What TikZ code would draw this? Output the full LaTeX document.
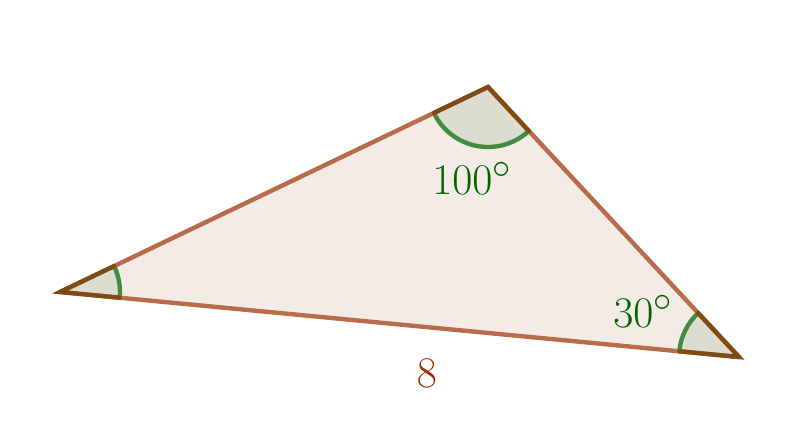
\documentclass[tikz,border=0pt]{standalone}
\usetikzlibrary{angles,calc}
\definecolor{sidebrown}{RGB}{183,108,76}
\definecolor{rimbrown}{RGB}{125,75,20}
\definecolor{trifill}{RGB}{244,235,230}
\definecolor{anglefill}{RGB}{220,221,207}
\definecolor{arcgreen}{RGB}{66,140,66}
\definecolor{labelgreen}{RGB}{0,100,0}
\definecolor{lengthbrown}{RGB}{153,51,0}
\begin{document}
\begin{tikzpicture}[x=0.02cm, y=0.02cm,
   side/.style={draw=sidebrown, line width=2.5pt, line cap=round},
   rim/.style={draw=rimbrown, line width=2.5pt, line cap=round},
   anglemark/.style={draw=arcgreen, line width=2.5pt, fill=anglefill, angle radius=1.2cm},
   every node/.style={font=\fontsize{28}{32}\selectfont}]

\useasboundingbox (0,0) rectangle (805,441);

\coordinate (A) at (60,149);
\coordinate (B) at (739,84);
\coordinate (C) at (488,354);

\fill[trifill] (A) -- (B) -- (C) -- cycle;

\pic[anglemark] {angle = B--A--C};
\pic[anglemark] {angle = A--C--B};
\pic[anglemark] {angle = C--B--A};

\draw[side] (A) -- (B);
\draw[side] (B) -- (C);
\draw[side] (C) -- (A);

\draw[rim] ($(A)!1.2cm!(C)$) -- (A) -- ($(A)!1.2cm!(B)$);
\draw[rim] ($(C)!1.2cm!(A)$) -- (C) -- ($(C)!1.2cm!(B)$);
\draw[rim] ($(B)!1.2cm!(A)$) -- (B) -- ($(B)!1.2cm!(C)$);

\node[text=labelgreen] (angC) at (472,263) {$100^\circ$};
\node[text=labelgreen] (angB) at (643,130) {$30^\circ$};
\node[text=lengthbrown] (sideAB) at (427,68) {$8$};

\end{tikzpicture}
\end{document}
